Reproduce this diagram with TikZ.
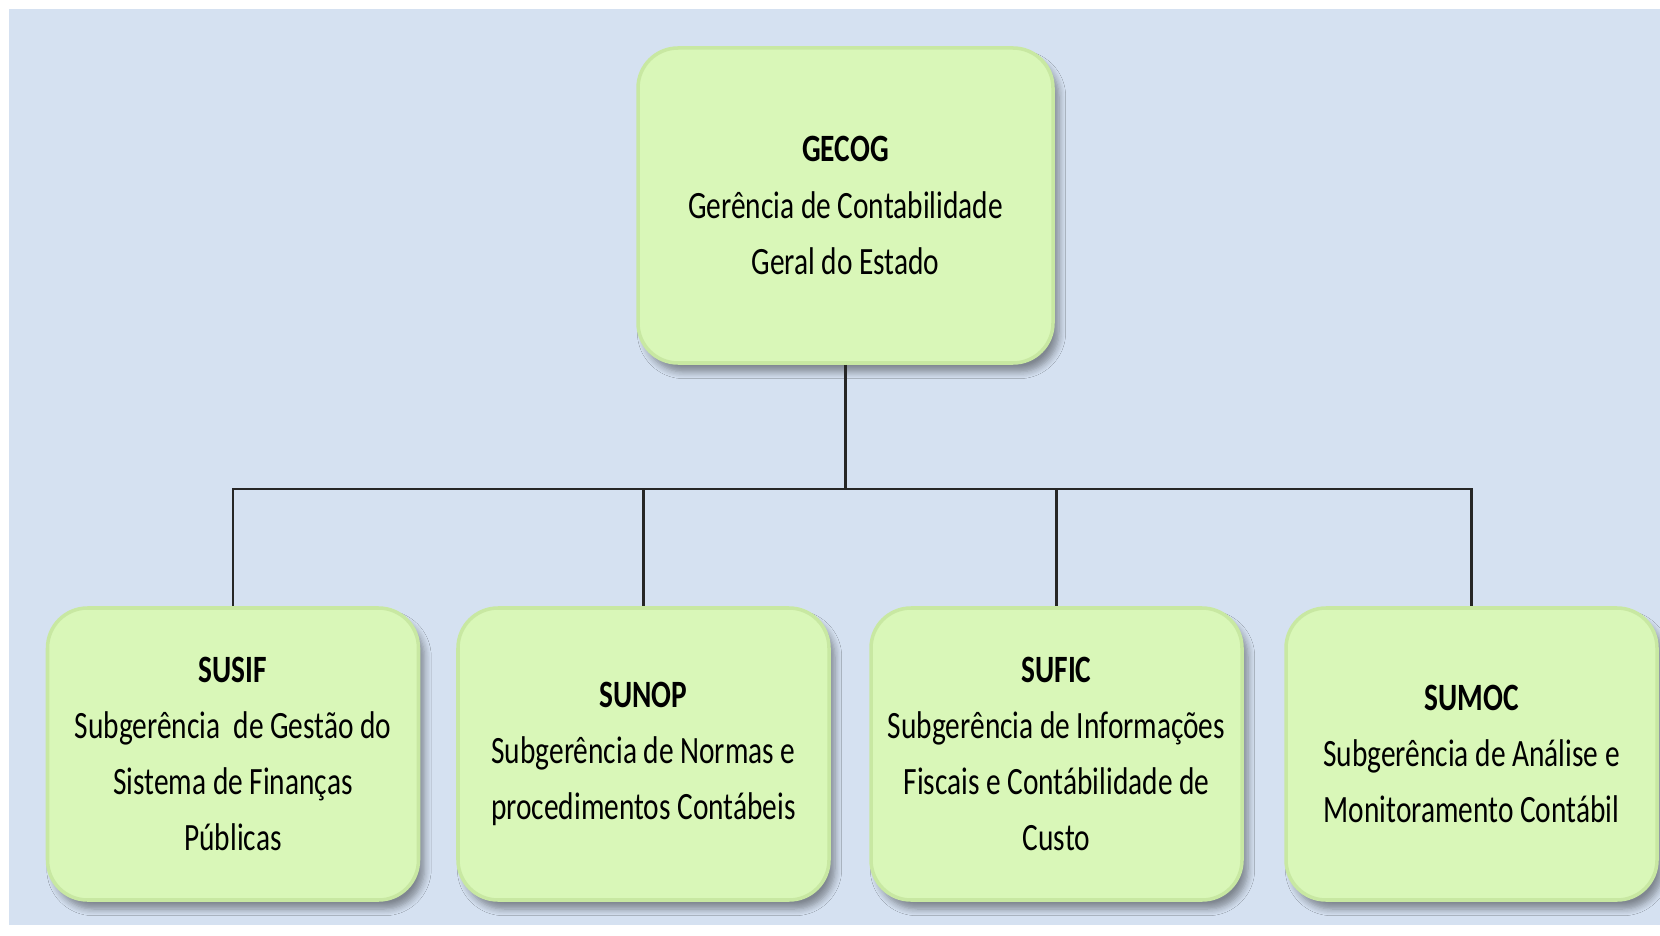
\documentclass[tikz,border=0pt]{standalone}
\usepackage{fontspec}
\setmainfont{Carlito}[FakeStretch=0.76]
\usetikzlibrary{shadows.blur}
\definecolor{bgblue}{RGB}{213,225,241}
\definecolor{boxgreen}{RGB}{217,247,184}
\definecolor{boxrim}{RGB}{200,232,162}

\begin{document}
\begin{tikzpicture}[unit/.style={rounded corners=0.4cm, fill=boxgreen, draw=boxrim, line width=1pt, align=center, inner sep=0pt, font={\fontsize{11}{16}\selectfont}, blur shadow={shadow xshift=0.6mm, shadow yshift=-0.9mm, shadow blur steps=6}},
		sub/.style={unit, minimum width=3.71cm, minimum height=2.92cm},
		link/.style={line width=0.8pt, draw=black!85}]
		\useasboundingbox (0,0) rectangle (16.6,9.35);
		\fill[bgblue] (0.09,0.10) rectangle (16.6,9.26);

		\node[unit, minimum width=4.15cm, minimum height=3.15cm] (gecog) at (8.455,7.295) {\textbf{GECOG}\\Gerência de Contabilidade\\Geral do Estado};

		\node[sub] (susif) at (2.33,1.81) {\textbf{SUSIF}\\Subgerência\ \ de Gestão do\\Sistema de Finanças\\Públicas};
		\node[sub] (sunop) at (6.435,1.81) {\textbf{SUNOP}\\Subgerência de Normas e\\procedimentos Contábeis};
		\node[sub] (sufic) at (10.565,1.81) {\textbf{SUFIC}\\Subgerência de Informações\\Fiscais e Contábilidade de\\Custo};
		\node[sub] (sumoc) at (14.715,1.81) {\textbf{SUMOC}\\Subgerência de Análise e\\Monitoramento Contábil};

		\coordinate (bus) at (8.455,4.46);
		\draw[link] (gecog.south) -- (bus);
		\foreach \n in {susif,sunop,sufic,sumoc}
			\draw[link] (bus) -| (\n.north);
	\end{tikzpicture}
\end{document}
